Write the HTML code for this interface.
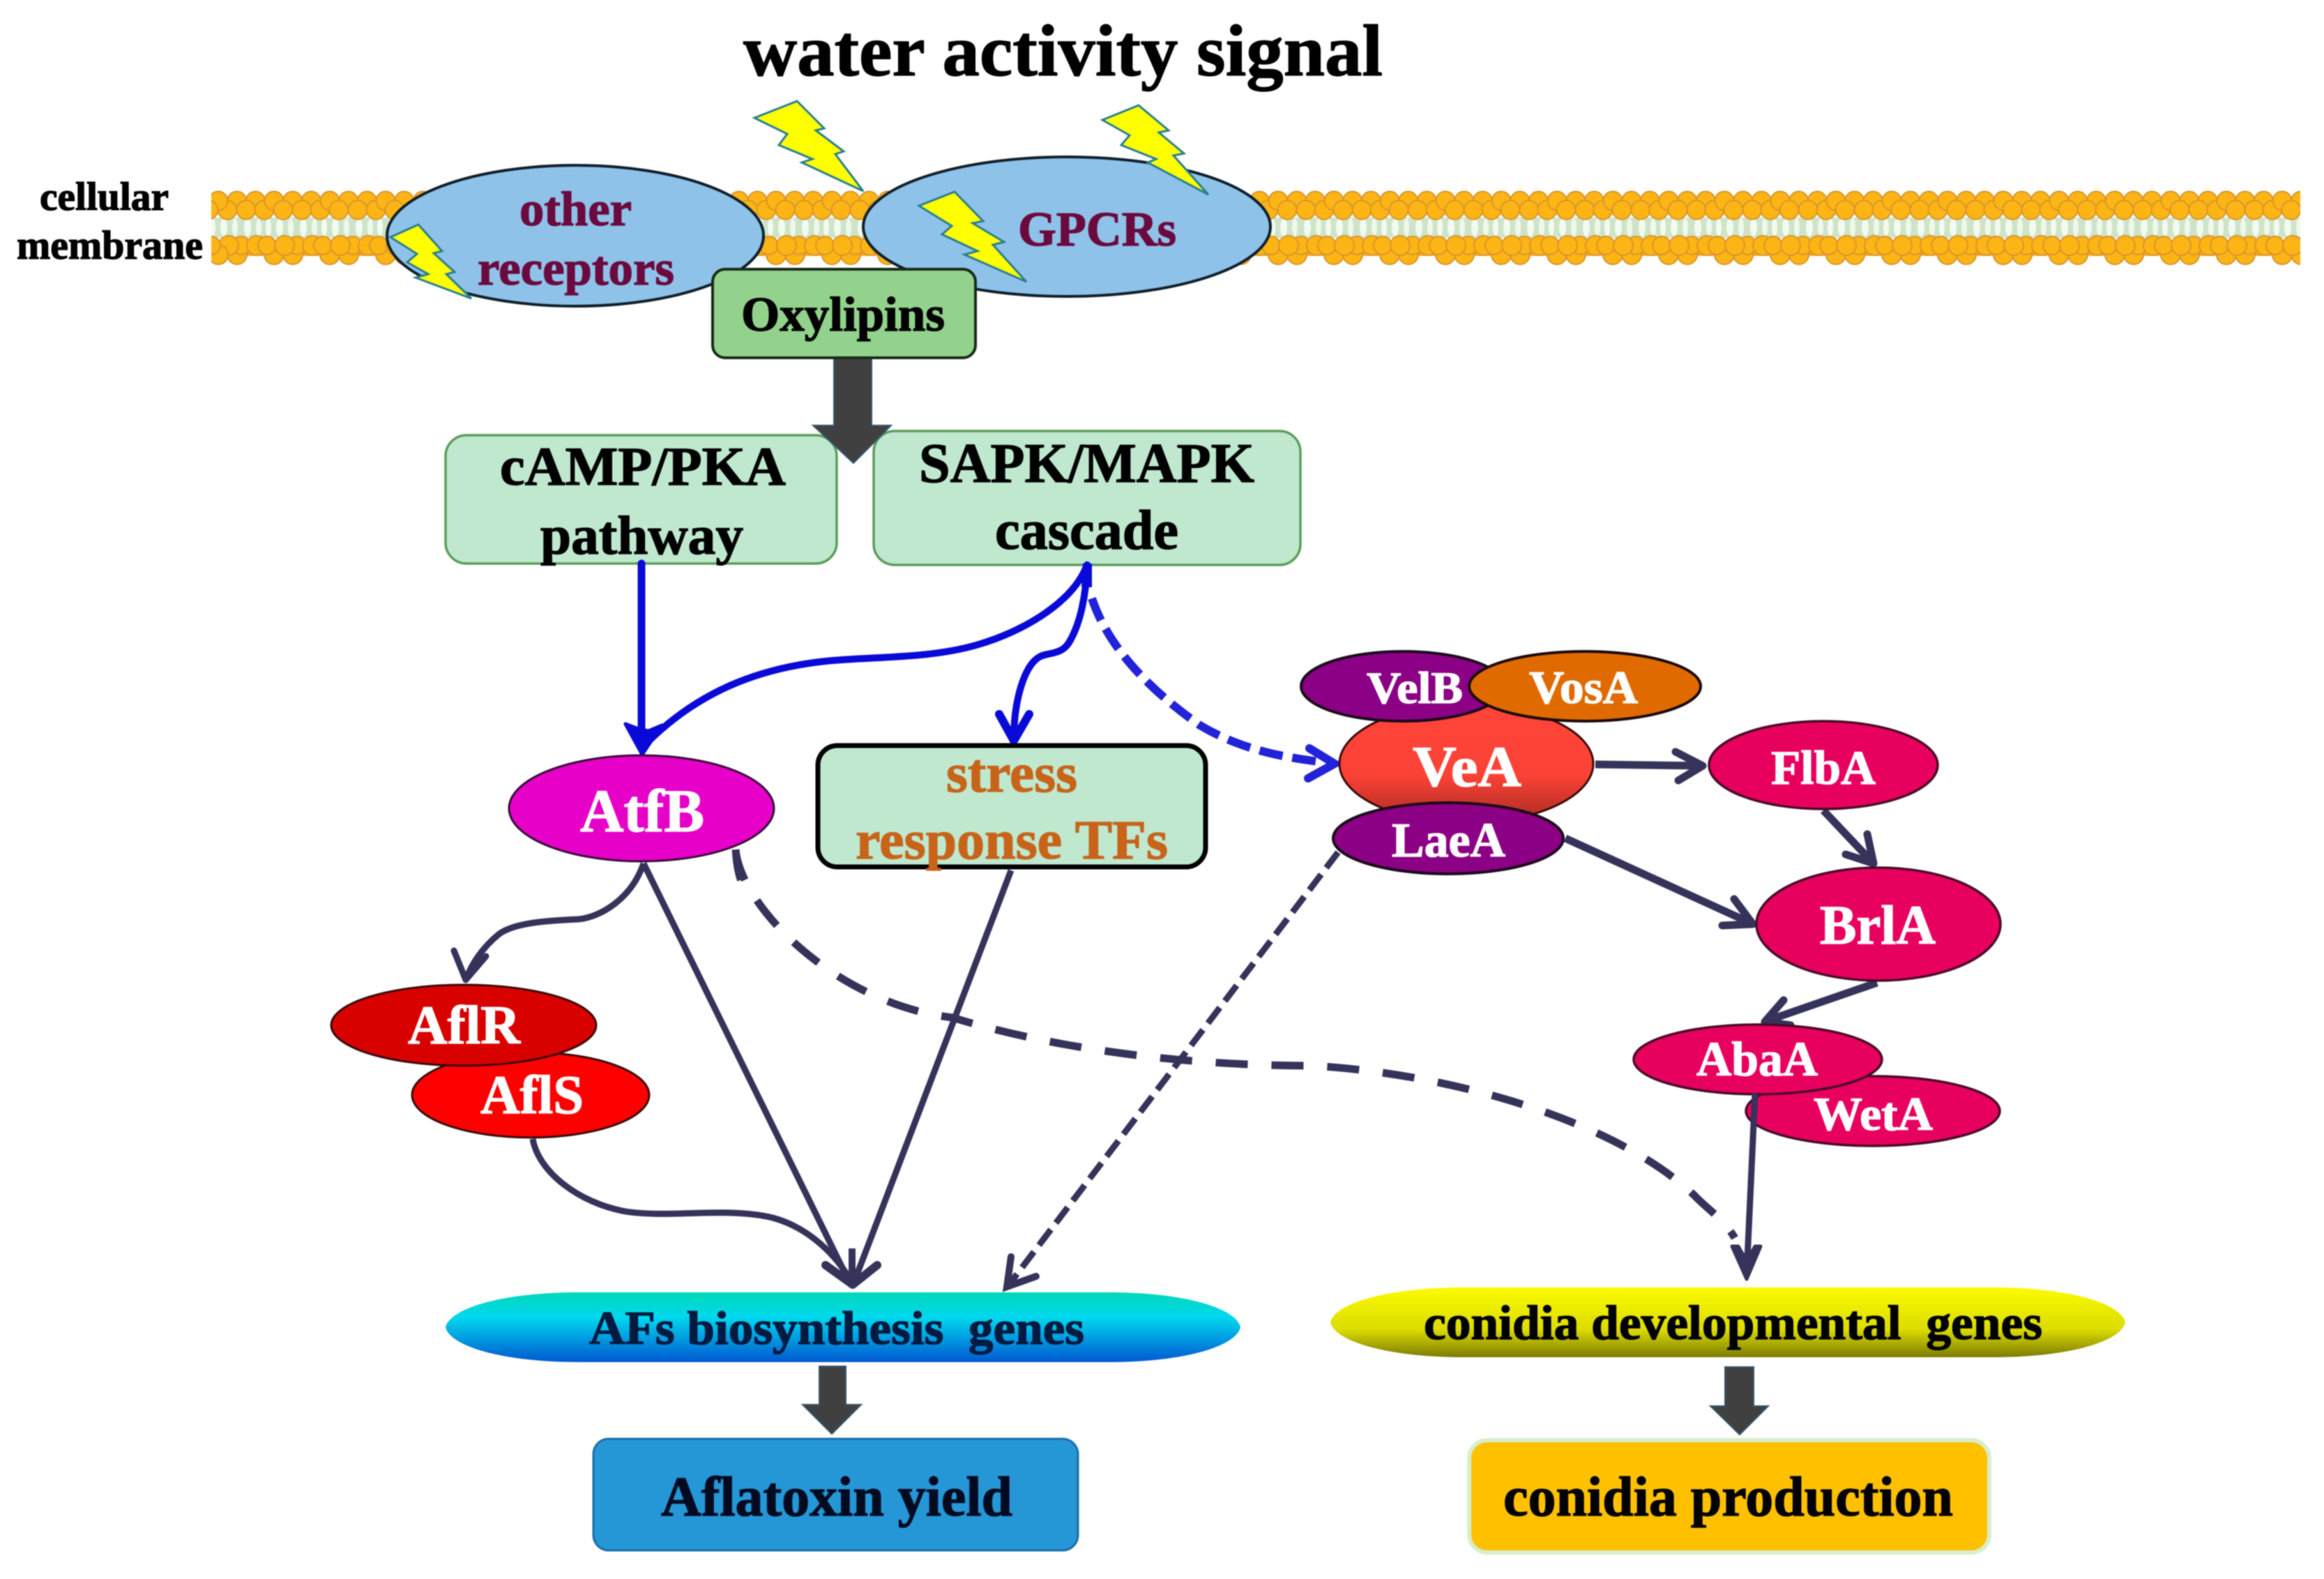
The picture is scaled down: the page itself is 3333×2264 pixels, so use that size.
<!DOCTYPE html>
<html>
<head>
<meta charset="utf-8">
<style>
html,body{margin:0;padding:0;background:#fff;width:3333px;height:2264px;overflow:hidden}
svg{display:block;filter:blur(0.8px)}
text{font-family:"Liberation Serif",serif;font-weight:bold;white-space:pre;fill:currentColor;stroke:currentColor;stroke-width:1.3px}
</style>
</head>
<body>
<svg width="3333" height="2264" viewBox="0 0 3333 2264" xmlns="http://www.w3.org/2000/svg">
<defs>
  <clipPath id="mem"><rect x="303" y="270" width="2996" height="112"/></clipPath>
  <g id="t1">
    <rect x="-1" y="312" width="82" height="29" fill="#cfe3c8"/>
    <ellipse cx="8" cy="326" rx="5" ry="13" fill="#f2fbef"/><ellipse cx="24" cy="326" rx="4" ry="13" fill="#eef9ea"/>
    <ellipse cx="42" cy="326" rx="5" ry="13" fill="#f2fbef"/><ellipse cx="58" cy="326" rx="4" ry="13" fill="#eef9ea"/>
    <ellipse cx="72" cy="326" rx="4" ry="13" fill="#f2fbef"/>
    <rect x="-1" y="284" width="82" height="20" fill="#f2a818"/>
    <rect x="-1" y="345" width="82" height="22" fill="#f2a818"/>
    <g fill="#fdb515" stroke="#d8952c" stroke-width="2">
      <circle cx="0" cy="288" r="13.5"/><circle cx="26.7" cy="288" r="13.5"/><circle cx="53.3" cy="288" r="13.5"/><circle cx="80" cy="288" r="13.5"/>
      <circle cx="13" cy="301" r="13.5"/><circle cx="40" cy="301" r="13.5"/><circle cx="66" cy="301" r="13.5"/>
      <circle cx="0" cy="365" r="14"/><circle cx="27" cy="365" r="14"/><circle cx="80" cy="365" r="14"/>
      <circle cx="-10" cy="352" r="13"/><circle cx="33" cy="352" r="13"/><circle cx="70" cy="352" r="13"/>
      <circle cx="15" cy="352" r="14"/><circle cx="55" cy="352" r="14"/>
    </g>
  </g>
  <g id="t8">
    <use href="#t1" x="0"/><use href="#t1" x="80"/><use href="#t1" x="160"/><use href="#t1" x="240"/>
    <use href="#t1" x="320"/><use href="#t1" x="400"/><use href="#t1" x="480"/><use href="#t1" x="560"/>
  </g>
  <linearGradient id="vea" x1="0" y1="0" x2="0" y2="1">
    <stop offset="0" stop-color="#ff4438"/><stop offset="0.6" stop-color="#fb4236"/><stop offset="1" stop-color="#a82a20"/>
  </linearGradient>
  <linearGradient id="afs" x1="0" y1="0" x2="0" y2="1">
    <stop offset="0" stop-color="#00d8b8"/><stop offset="0.35" stop-color="#00d8ee"/><stop offset="1" stop-color="#0058d0"/>
  </linearGradient>
  <linearGradient id="con" x1="0" y1="0" x2="0" y2="1">
    <stop offset="0" stop-color="#fbfb00"/><stop offset="0.6" stop-color="#dcdc00"/><stop offset="1" stop-color="#7c7a00"/>
  </linearGradient>
</defs>

<!-- membrane -->
<g clip-path="url(#mem)">
  <use href="#t8" x="313"/><use href="#t8" x="953"/><use href="#t8" x="1593"/><use href="#t8" x="2233"/><use href="#t8" x="2873"/>
  <use href="#t1" x="233"/>
</g>

<!-- title -->
<text x="1066" y="108" font-size="105" color="#000" textLength="917" lengthAdjust="spacingAndGlyphs">water activity signal</text>
<text x="57" y="301" font-size="57" color="#000" textLength="185" lengthAdjust="spacingAndGlyphs">cellular</text>
<text x="24" y="371" font-size="58" color="#000" textLength="267" lengthAdjust="spacingAndGlyphs">membrane</text>

<!-- receptors -->
<ellipse cx="825" cy="338" rx="270" ry="101" fill="#8fc2e8" stroke="#10202c" stroke-width="4"/>
<ellipse cx="1530" cy="325" rx="292" ry="100" fill="#8fc2e8" stroke="#10202c" stroke-width="4"/>
<text x="745" y="323" font-size="70" color="#6b0a3f" textLength="161" lengthAdjust="spacingAndGlyphs">other</text>
<text x="685" y="408" font-size="70" color="#6b0a3f" textLength="282" lengthAdjust="spacingAndGlyphs">receptors</text>
<text x="1460" y="352" font-size="70" color="#6b0a3f" textLength="227" lengthAdjust="spacingAndGlyphs">GPCRs</text>

<!-- bolts -->
<g fill="#ffff00" stroke="#2a7f90" stroke-width="3" stroke-linejoin="miter">
  <polygon points="1082,169 1143,145 1182,184 1170,187 1210,217 1198,221 1238,274 1150,233 1165,228 1117,208 1129,192"/>
  <polygon points="1581,172 1633,151 1676,187 1662,190 1698,220 1683,223 1733,279 1646,233 1658,228 1608,208 1620,194"/>
  <polygon points="1318,295 1369,275 1410,317 1395,320 1440,347 1424,351 1472,404 1383,365 1402,360 1351,336 1365,324"/>
  <polygon points="560,340 600,322 634,360 622,363 652,390 640,393 676,428 596,398 614,393 584,376 598,364"/>
</g>

<!-- green boxes -->
<rect x="639" y="624" width="561" height="184" rx="30" fill="#bfe8cf" stroke="#5a9e5a" stroke-width="3.5"/>
<rect x="1253" y="618" width="612" height="192" rx="30" fill="#bfe8cf" stroke="#5a9e5a" stroke-width="3.5"/>
<text x="717" y="695" font-size="78" color="#000" textLength="410" lengthAdjust="spacingAndGlyphs">cAMP/PKA</text>
<text x="775" y="794" font-size="78" color="#000" textLength="291" lengthAdjust="spacingAndGlyphs">pathway</text>
<text x="1318" y="691" font-size="80" color="#000" textLength="481" lengthAdjust="spacingAndGlyphs">SAPK/MAPK</text>
<text x="1427" y="787" font-size="80" color="#000" textLength="263" lengthAdjust="spacingAndGlyphs">cascade</text>

<!-- big arrow -->
<polygon points="1196,510 1250,510 1250,610 1278,610 1224,664 1166,610 1196,610" fill="#404040" stroke="#36566e" stroke-width="2"/>

<!-- Oxylipins -->
<rect x="1022" y="386" width="377" height="127" rx="18" fill="#92d28c" stroke="#1a2a1a" stroke-width="4"/>
<text x="1063" y="474" font-size="70" color="#000" textLength="292" lengthAdjust="spacingAndGlyphs">Oxylipins</text>

<!-- blue arrows -->
<g fill="none" stroke="#0a0ad8" stroke-width="10" stroke-linecap="round" stroke-linejoin="round">
  <line x1="920" y1="808" x2="920" y2="1060" stroke-width="11"/>
  <path d="M1559 810C1540 862 1470 905 1400 925C1330 945 1250 941 1184 948C1090 958 1000 990 921 1072"/>
  <path d="M1559 810C1558 850 1550 895 1532 923C1520 940 1500 935 1489 943C1470 955 1455 1000 1454 1055"/>
</g>
<polygon points="1553,808 1566,808 1566,842 1551,842" fill="#0a0ad8"/>
<polygon points="897,1038 918,1046 930,1048 949,1040 921,1082" fill="#0a0ad8" stroke="#0a0ad8" stroke-width="5" stroke-linejoin="round"/>
<polyline points="1433,1024 1454,1062 1476,1024" fill="none" stroke="#0a0ad8" stroke-width="12" stroke-linecap="round" stroke-linejoin="round"/>
<path d="M1566 858C1590 930 1650 990 1721 1040C1780 1075 1840 1086 1900 1093" fill="none" stroke="#2222d8" stroke-width="12" stroke-dasharray="34 14"/>
<polyline points="1878,1073 1914,1095 1876,1116" fill="none" stroke="#2222d8" stroke-width="12" stroke-linecap="round" stroke-linejoin="miter"/>

<!-- dark connectors -->
<g fill="none" stroke="#35335a" stroke-linecap="butt" stroke-linejoin="round">
  <path d="M1055 1218C1062 1300 1200 1440 1366 1459C1500 1500 1680 1528 1882 1528C2090 1540 2320 1610 2430 1714C2450 1735 2472 1748 2488 1775" stroke-width="11" stroke-dasharray="46 34"/>
  <line x1="923" y1="1238" x2="1218" y2="1838" stroke-width="9"/>
  <line x1="1450" y1="1248" x2="1225" y2="1838" stroke-width="9"/>
  <path d="M764 1633C772 1680 830 1725 897 1737C960 1747 1040 1730 1108 1746C1160 1760 1200 1800 1221 1838" stroke-width="9"/>
  <path d="M923 1238C905 1290 860 1315 830 1318C790 1320 740 1322 716 1339C690 1360 675 1385 668 1405" stroke-width="9"/>
  <polyline points="651,1363 668,1405 697,1371" stroke-width="9" stroke-linecap="round"/>
  <polyline points="1184,1814 1223,1842 1258,1814" stroke-width="12" stroke-linecap="round"/>
  <line x1="1222" y1="1790" x2="1222" y2="1840" stroke-width="10"/>
  <line x1="1919" y1="1222" x2="1450" y2="1838" stroke-width="9" stroke-dasharray="28 12"/>
  <polyline points="1450,1802 1444,1845 1486,1830" stroke-width="10" stroke-linecap="round" stroke-linejoin="miter"/>
  <line x1="2288" y1="1096" x2="2440" y2="1098" stroke-width="11"/>
  <polyline points="2403,1078 2442,1098 2407,1119" stroke-width="11" stroke-linecap="round"/>
  <line x1="2615" y1="1162" x2="2685" y2="1236" stroke-width="11"/>
  <polyline points="2678,1196 2687,1238 2647,1225" stroke-width="11" stroke-linecap="round"/>
  <line x1="2245" y1="1202" x2="2512" y2="1324" stroke-width="11"/>
  <polyline points="2487,1289 2514,1325 2470,1327" stroke-width="11" stroke-linecap="round"/>
  <line x1="2692" y1="1409" x2="2533" y2="1464" stroke-width="11"/>
  <polyline points="2558,1434 2531,1465 2568,1470" stroke-width="11" stroke-linecap="round"/>
</g>

<!-- AtfB and stress -->
<ellipse cx="920" cy="1159" rx="190" ry="76" fill="#e600c8" stroke="#3a0a38" stroke-width="3"/>
<text x="832" y="1192" font-size="87" color="#fff" textLength="178" lengthAdjust="spacingAndGlyphs">AtfB</text>
<path d="M1055 1224C1056 1238 1058 1250 1062 1262" fill="none" stroke="#35335a" stroke-width="10"/>
<rect x="1173" y="1069" width="556" height="174" rx="28" fill="#bfe8cf" stroke="#000" stroke-width="7"/>
<text x="1357" y="1135" font-size="79" color="#c8641a" textLength="188" lengthAdjust="spacingAndGlyphs">stress</text>
<text x="1227" y="1231" font-size="79" color="#c8641a" textLength="448" lengthAdjust="spacingAndGlyphs">response TFs</text>

<!-- AflS / AflR -->
<ellipse cx="761" cy="1570" rx="170" ry="61" fill="#ff0000" stroke="#3a0a0a" stroke-width="3"/>
<ellipse cx="665" cy="1470" rx="190" ry="58" fill="#d90000" stroke="#3a0a0a" stroke-width="3"/>
<text x="585" y="1496" font-size="78" color="#fff" textLength="161" lengthAdjust="spacingAndGlyphs">AflR</text>
<text x="689" y="1596" font-size="78" color="#fff" textLength="148" lengthAdjust="spacingAndGlyphs">AflS</text>

<!-- VeA cluster -->
<ellipse cx="2103" cy="1095" rx="182" ry="85" fill="url(#vea)" stroke="#3a0a0a" stroke-width="3"/>
<ellipse cx="2012" cy="984" rx="146" ry="50" fill="#8b0085" stroke="#1a0a1a" stroke-width="4"/>
<ellipse cx="2273" cy="984" rx="166" ry="50" fill="#e06a00" stroke="#1a0a0a" stroke-width="4"/>
<ellipse cx="2077" cy="1202" rx="165" ry="51" fill="#8b0085" stroke="#1a0a1a" stroke-width="4"/>
<text x="1960" y="1008" font-size="65" color="#fff" textLength="138" lengthAdjust="spacingAndGlyphs">VelB</text>
<text x="2193" y="1008" font-size="67" color="#fff" textLength="156" lengthAdjust="spacingAndGlyphs">VosA</text>
<text x="2026" y="1127" font-size="83" color="#fff" textLength="156" lengthAdjust="spacingAndGlyphs">VeA</text>
<text x="1996" y="1228" font-size="70" color="#fff" textLength="163" lengthAdjust="spacingAndGlyphs">LaeA</text>

<!-- Conidia proteins -->
<g fill="#e8005f" stroke="#4a0a28" stroke-width="3.5">
  <ellipse cx="2615" cy="1097" rx="164" ry="63"/>
  <ellipse cx="2694" cy="1325" rx="175" ry="81"/>
  <ellipse cx="2686" cy="1593" rx="182" ry="50"/>
  <ellipse cx="2521" cy="1519" rx="178" ry="50"/>
</g>
<text x="2540" y="1124" font-size="69" color="#fff" textLength="150" lengthAdjust="spacingAndGlyphs">FlbA</text>
<text x="2610" y="1353" font-size="79" color="#fff" textLength="166" lengthAdjust="spacingAndGlyphs">BrlA</text>
<text x="2433" y="1542" font-size="70" color="#fff" textLength="174" lengthAdjust="spacingAndGlyphs">AbaA</text>
<text x="2601" y="1620" font-size="68" color="#fff" textLength="171" lengthAdjust="spacingAndGlyphs">WetA</text>
<line x1="2517" y1="1568" x2="2505" y2="1826" stroke="#35335a" stroke-width="9"/>
<polygon points="2484,1787 2493,1787 2505,1808 2517,1787 2525,1787 2505,1834" fill="#35335a" stroke="#35335a" stroke-width="5" stroke-linejoin="round"/>

<!-- gene ellipses -->
<path d="M639 1903C645 1876 720 1853 830 1853L1590 1853C1700 1853 1773 1876 1779 1903C1773 1930 1700 1953 1590 1953L830 1953C720 1953 645 1930 639 1903Z" fill="url(#afs)"/>
<text x="845" y="1927" font-size="68" color="#001a40" textLength="710" lengthAdjust="spacingAndGlyphs">AFs biosynthesis  genes</text>
<path transform="translate(1269,-7)" d="M639 1903C645 1876 720 1853 830 1853L1590 1853C1700 1853 1773 1876 1779 1903C1773 1930 1700 1953 1590 1953L830 1953C720 1953 645 1930 639 1903Z" fill="url(#con)"/>
<text x="2042" y="1920" font-size="70" color="#000" textLength="887" lengthAdjust="spacingAndGlyphs">conidia developmental  genes</text>

<!-- bottom arrows -->
<polygon points="1175,1959 1213,1959 1213,2014 1235,2014 1193,2056 1151,2014 1175,2014" fill="#404040" stroke="#36566e" stroke-width="2"/>
<polygon points="2474,1960 2515,1960 2515,2016 2536,2016 2495,2057 2453,2016 2474,2016" fill="#404040" stroke="#36566e" stroke-width="2"/>

<!-- outputs -->
<rect x="851" y="2063" width="695" height="160" rx="22" fill="#2596d6" stroke="#1c6fa8" stroke-width="3"/>
<text x="948" y="2173" font-size="80" color="#000a20" textLength="504" lengthAdjust="spacingAndGlyphs">Aflatoxin yield</text>
<rect x="2107" y="2065" width="746" height="161" rx="26" fill="#ffc000" stroke="#d8eecc" stroke-width="6"/>
<text x="2156" y="2173" font-size="80" color="#000" textLength="645" lengthAdjust="spacingAndGlyphs">conidia production</text>
</svg>
</body>
</html>
